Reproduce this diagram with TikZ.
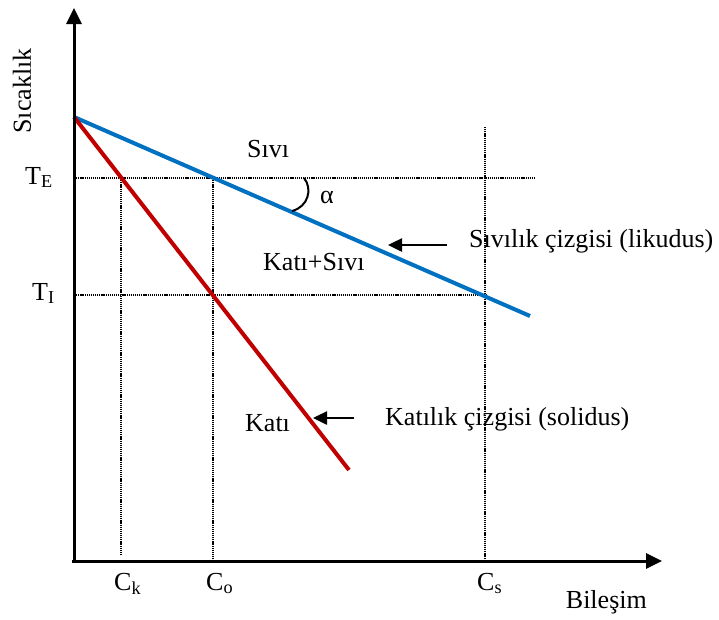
\documentclass[tikz,border=0pt]{standalone}
\usepackage{fontspec}
\setmainfont{Liberation Serif}
\usetikzlibrary{arrows.meta}
\definecolor{liqblue}{RGB}{0,112,192}
\definecolor{solred}{RGB}{192,0,0}
\begin{document}
\begin{tikzpicture}[x=1pt,y=-1pt,
 lbl/.style={inner sep=0pt, font=\fontsize{26}{30}\selectfont},
 axisline/.style={line width=3pt, -{Triangle[length=16pt,width=15pt]}},
 guide/.style={line width=2.5pt, dash pattern=on 1.2pt off 0.9pt},
 pointer/.style={line width=2.5pt, -{Triangle[length=14pt,width=13pt]}},
 phaseline/.style={line width=4pt},
]
\useasboundingbox (0,0) rectangle (719,619);
% key points
\coordinate (O) at (74,561);
\coordinate (ytip) at (74,8);
\coordinate (xtip) at (662,561);
\coordinate (top) at (74,117);
\coordinate (liqend) at (530,316);
\coordinate (solend) at (349,470);
\coordinate (teL) at (74,178);
\coordinate (teR) at (535,178);
\coordinate (tiL) at (74,295);
\coordinate (tiR) at (487,295);
\coordinate (ckT) at (121,178);
\coordinate (ckB) at (121,555);
\coordinate (coT) at (213,178);
\coordinate (coB) at (213,561);
\coordinate (csT) at (485,127);
\coordinate (csB) at (485,561);
\coordinate (a1) at (447,245);
\coordinate (a2) at (388,245);
\coordinate (b1) at (354,418);
\coordinate (b2) at (313,418);
\coordinate (arcS) at (304,178);
\coordinate (arcE) at (292,211);
% guides
\draw[guide] (teL) -- (teR);
\draw[guide] (tiL) -- (tiR);
\draw[guide] (ckT) -- (ckB);
\draw[guide] (coT) -- (coB);
\draw[guide] (csT) -- (csB);
% phase lines
\draw[phaseline, liqblue] (top) -- (liqend);
\draw[phaseline, solred] (top) -- (solend);
% axes
\draw[axisline] (O) -- (ytip);
\draw[axisline] ([xshift=-2pt]O) -- (xtip);
% angle arc
\draw[line width=2pt] (arcS) .. controls (313,189) and (308,207) .. (arcE);
% pointers
\draw[pointer] (a1) -- (a2);
\draw[pointer] (b1) -- (b2);
% labels
\node[lbl, rotate=90] (ylab) at (22,91) {Sıcaklık};
\node[lbl, anchor=base west] (te) at (25,184) {T\textsubscript{E}};
\node[lbl, anchor=base west] (ti) at (32,300) {T\textsubscript{I}};
\node[lbl, anchor=base west] (ck) at (114,590) {C\textsubscript{k}};
\node[lbl, anchor=base west] (co) at (206,590) {C\textsubscript{o}};
\node[lbl, anchor=base west] (cs) at (477,590) {C\textsubscript{s}};
\node[lbl, anchor=base east] (xlab) at (647,608) {Bileşim};
\node[lbl, anchor=base west] (siv) at (247,157) {Sıvı};
\node[lbl, anchor=base west] (alpha) at (320,203) {α};
\node[lbl, anchor=base west] (ks) at (263,270) {Katı+Sıvı};
\node[lbl, anchor=base west] (kat) at (245,431) {Katı};
\node[lbl, anchor=base west] (liqlab) at (469,247) {Sıvılık çizgisi (likudus)};
\node[lbl, anchor=base west] (sollab) at (385,425) {Katılık çizgisi (solidus)};
\end{tikzpicture}
\end{document}
